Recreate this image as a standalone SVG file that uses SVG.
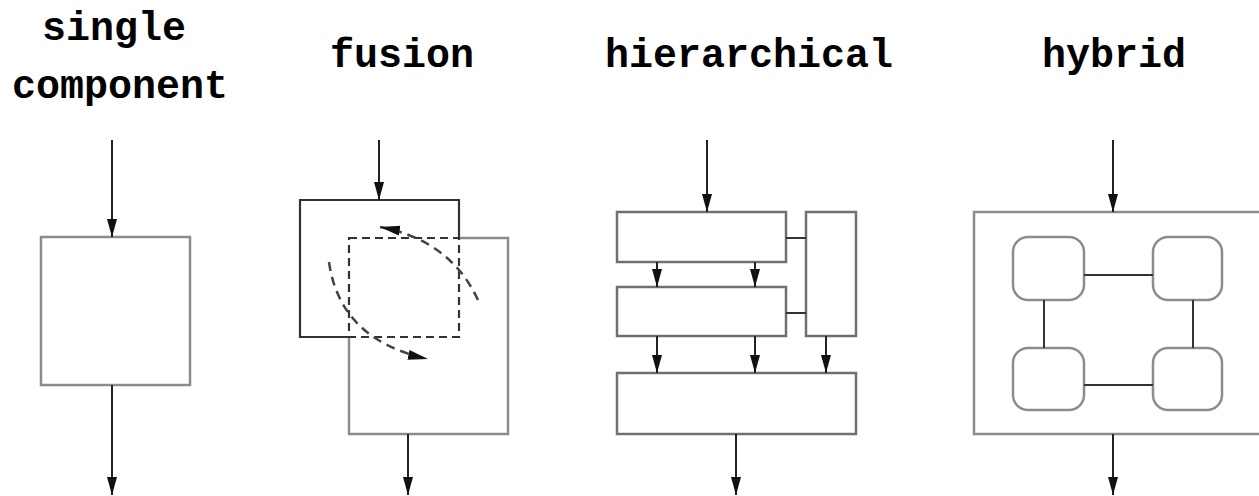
<svg xmlns="http://www.w3.org/2000/svg" width="1259" height="496" viewBox="0 0 1259 496">
<style>
.lbl{font-family:"Liberation Mono","DejaVu Sans Mono",monospace;font-size:40px;font-weight:bold;fill:#000}
.gbox{fill:none;stroke:#8c8c8c;stroke-width:2.5}
.hbox{fill:none;stroke:#707070;stroke-width:2.5}
.dbox{fill:none;stroke:#333;stroke-width:2.2}
.arr{fill:none;stroke:#222;stroke-width:2;marker-end:url(#ah)}
.ln{fill:none;stroke:#333;stroke-width:2}
.dash{fill:none;stroke:#333;stroke-width:2.2;stroke-dasharray:8 5}
.dcurve{fill:none;stroke:#444;stroke-width:2.5;stroke-dasharray:9 6;marker-end:url(#ah2)}
</style>
<defs>
<marker id="ah" viewBox="0 0 18 12" refX="18" refY="6" markerWidth="18" markerHeight="12" markerUnits="userSpaceOnUse" orient="auto">
<path d="M0,1 L18,6 L0,11 Z" fill="#111"/>
</marker>
<marker id="ah2" viewBox="0 0 20 12" refX="20" refY="6" markerWidth="20" markerHeight="12" markerUnits="userSpaceOnUse" orient="auto">
<path d="M0,1 L20,6 L0,11 Z" fill="#111"/>
</marker>
</defs>
<rect width="1259" height="496" fill="#fff"/>
<g id="labels">
<text class="lbl" x="42" y="40">single</text>
<text class="lbl" x="12" y="98">component</text>
<text class="lbl" x="330" y="67">fusion</text>
<text class="lbl" x="605" y="67">hierarchical</text>
<text class="lbl" x="1042" y="67">hybrid</text>
</g>
<g id="single">
<rect class="gbox" x="41" y="237" width="149" height="148"/>
</g>
<g id="fusion">
<path class="dbox" d="M349,337 H300 V200 H459 V238"/>
<path class="gbox" d="M459,238 H508 V434 H349 V337"/>
<rect class="dash" x="349" y="238" width="110" height="99"/>
</g>
<g id="hierarchical">
<rect class="hbox" x="617" y="212" width="169" height="50"/>
<rect class="hbox" x="617" y="287" width="169" height="49"/>
<rect class="hbox" x="806" y="212" width="50" height="124"/>
<rect class="hbox" x="617" y="373" width="239" height="61"/>
</g>
<g id="hybrid">
<rect class="gbox" x="974" y="212" width="300" height="222"/>
<rect class="gbox" x="1013" y="237" width="71" height="63" rx="15"/>
<rect class="gbox" x="1153" y="237" width="69" height="63" rx="15"/>
<rect class="gbox" x="1013" y="348" width="71" height="62" rx="15"/>
<rect class="gbox" x="1153" y="348" width="69" height="62" rx="15"/>
</g>
<g id="connectors">
<line class="arr" x1="112" y1="140" x2="112" y2="237"/>
<line class="arr" x1="112" y1="385" x2="112" y2="495"/>
<line class="arr" x1="379" y1="140" x2="379" y2="200"/>
<line class="arr" x1="408" y1="434" x2="408" y2="495"/>
<path class="dcurve" d="M329,262 Q340,340 428,359"/>
<path class="dcurve" d="M478,300 Q450,240 380,227"/>
<line class="arr" x1="707" y1="140" x2="707" y2="212"/>
<line class="arr" x1="657" y1="262" x2="657" y2="287"/>
<line class="arr" x1="755" y1="262" x2="755" y2="287"/>
<line class="arr" x1="657" y1="336" x2="657" y2="373"/>
<line class="arr" x1="755" y1="336" x2="755" y2="373"/>
<line class="arr" x1="826" y1="336" x2="826" y2="373"/>
<line class="ln" x1="786" y1="238" x2="806" y2="238"/>
<line class="ln" x1="786" y1="313" x2="806" y2="313"/>
<line class="arr" x1="736" y1="434" x2="736" y2="495"/>
<line class="arr" x1="1113" y1="140" x2="1113" y2="212"/>
<line class="arr" x1="1113" y1="434" x2="1113" y2="495"/>
<line class="ln" x1="1084" y1="275" x2="1153" y2="275"/>
<line class="ln" x1="1084" y1="385" x2="1153" y2="385"/>
<line class="ln" x1="1044" y1="300" x2="1044" y2="348"/>
<line class="ln" x1="1193" y1="300" x2="1193" y2="348"/>
</g>
</svg>
